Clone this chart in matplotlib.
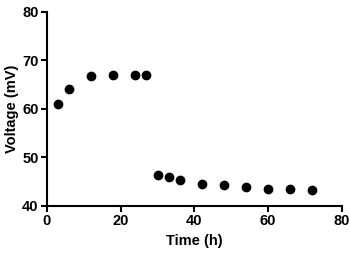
import matplotlib.pyplot as plt

plt.rcParams['font.family'] = ['Liberation Sans', 'DejaVu Sans']
plt.rcParams['font.weight'] = 'bold'

# Voltage over time
time_h = [3, 6, 12, 18, 24, 27, 30, 33, 36, 42, 48, 54, 60, 66, 72]
voltage_mv = [61.0, 64.1, 66.7, 67.0, 67.0, 66.9, 46.3, 45.9, 45.3, 44.5, 44.4, 43.9, 43.6, 43.4, 43.2]

fig = plt.figure(figsize=(3.5, 2.54), dpi=100)
ax = fig.add_axes([0.134, 0.189, 0.843, 0.764])

ax.plot(time_h, voltage_mv, 'o', color='black', markersize=6, clip_on=False)

ax.set_xlim(0, 80)
ax.set_ylim(40, 80)
ax.set_xticks([0, 20, 40, 60, 80])
ax.set_yticks([40, 50, 60, 70, 80])
ax.set_xlabel('Time (h)', fontsize=10.5, fontweight='bold', labelpad=4)
ax.set_ylabel('Voltage (mV)', fontsize=10.5, fontweight='bold', labelpad=2)

for side in ['top', 'right']:
    ax.spines[side].set_visible(False)
for side in ['left', 'bottom']:
    ax.spines[side].set_linewidth(1.5)
ax.tick_params(direction='out', width=1.5, length=4, labelsize=10.5, pad=2)
for lbl in ax.get_xticklabels() + ax.get_yticklabels():
    lbl.set_fontweight('bold')

fig.savefig('out.png', dpi=100)
